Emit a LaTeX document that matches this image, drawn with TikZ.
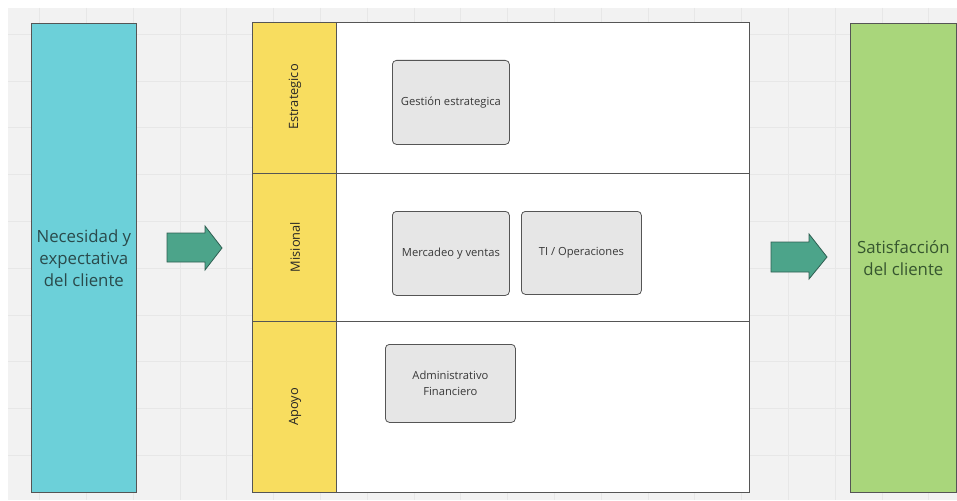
\documentclass[tikz,border=0pt]{standalone}
\usepackage{fontspec}
\setmainfont{Open Sans}
\definecolor{bgc}{HTML}{F2F2F2}
\definecolor{gridc}{HTML}{E7E7E7}
\definecolor{needc}{HTML}{6CD0D9}
\definecolor{satc}{HTML}{A9D67B}
\definecolor{lanec}{HTML}{F8DD5F}
\definecolor{procc}{HTML}{E6E6E6}
\definecolor{edgec}{HTML}{555555}
\definecolor{arrowc}{HTML}{4CA48A}
\definecolor{arrowe}{HTML}{2F5F52}
\definecolor{needt}{HTML}{2A4A4B}
\definecolor{satt}{HTML}{36562F}
\begin{document}
\begin{tikzpicture}[x=1pt,y=-1pt,
  sidebox/.style={draw=edgec, line width=0.8pt, anchor=north west, inner sep=0pt,
    minimum width=105pt, minimum height=469pt, align=center,
    font=\fontsize{16.8}{22}\selectfont},
  lanebox/.style={draw=edgec, line width=0.8pt, fill=lanec, anchor=north west,
    inner sep=0pt, minimum width=84pt},
  bodybox/.style={draw=edgec, line width=0.8pt, fill=white, anchor=north west,
    inner sep=0pt, minimum width=413pt},
  lanelabel/.style={rotate=90, text=black!85, font=\fontsize{12.8}{15}\selectfont},
  procbox/.style={draw=edgec, line width=0.8pt, fill=procc, rounded corners=4pt,
    anchor=north west, inner sep=0pt, align=center, text=black!78,
    font=\fontsize{11.2}{16}\selectfont},
  blockarrow/.style={fill=arrowc, draw=arrowe, line width=0.8pt, line join=miter}]
\useasboundingbox (0,0) rectangle (957,500);
% canvas with a light grid
\fill[white] (0,0) rectangle (957,500);
\fill[bgc] (8,8) rectangle (957,500);
\foreach \i in {0,...,19} \draw[gridc, line width=0.8pt] (39.6+46.8*\i,8) -- (39.6+46.8*\i,500);
\foreach \j in {0,...,9} \draw[gridc, line width=0.8pt] (8,34.2+46.8*\j) -- (957,34.2+46.8*\j);

% input and output columns
\node[sidebox, fill=needc, text=needt] (need) at (31,23) {Necesidad y\\expectativa\\del cliente};
\node[sidebox, fill=satc, text=satt, minimum width=106pt] (sat) at (850,23) {Satisfacción\\del cliente};

% process map: three lanes
\node[lanebox, minimum height=151pt] (l1) at (252,22) {};
\node[lanebox, minimum height=148pt] (l2) at (252,173) {};
\node[lanebox, minimum height=171pt] (l3) at (252,321) {};
\node[bodybox, minimum height=151pt] (b1) at (336,22) {};
\node[bodybox, minimum height=148pt] (b2) at (336,173) {};
\node[bodybox, minimum height=171pt] (b3) at (336,321) {};
\node[lanelabel] (t1) at (295,97) {Estrategico};
\node[lanelabel] (t2) at (295,247) {Misional};
\node[lanelabel] (t3) at (295,407) {Apoyo};

% processes
\node[procbox, minimum width=117pt, minimum height=84pt] (p1) at (392,60) {Gestión estrategica};
\node[procbox, minimum width=117pt, minimum height=84pt] (p2) at (392,211) {Mercadeo y ventas};
\node[procbox, minimum width=120pt, minimum height=83pt] (p3) at (521,211) {TI / Operaciones};
\node[procbox, minimum width=130pt, minimum height=78pt] (p4) at (385,344) {Administrativo\\Financiero};

% flow arrows
\draw[blockarrow] (167,233) -- (205,233) -- (205,226) -- (222,248) -- (205,270) -- (205,262) -- (167,262) -- cycle;
\draw[blockarrow] (771,242) -- (809,242) -- (809,234) -- (827,257) -- (809,279) -- (809,272) -- (771,272) -- cycle;
\end{tikzpicture}
\end{document}
